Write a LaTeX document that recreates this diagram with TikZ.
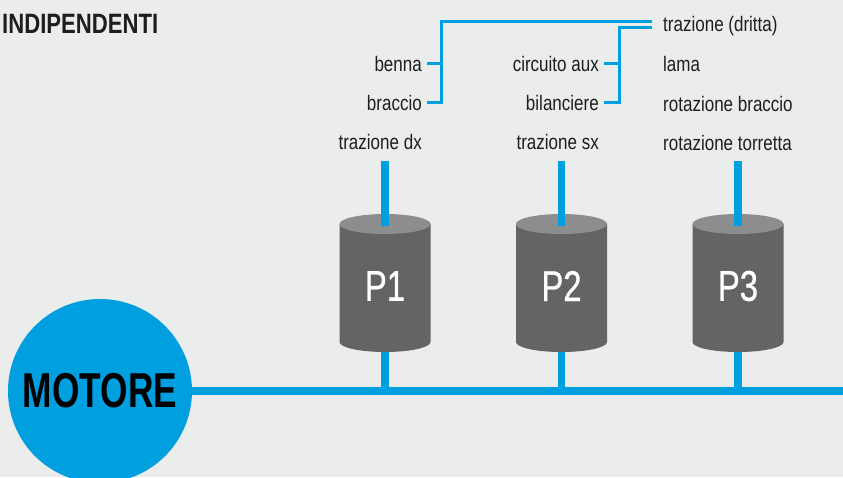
\documentclass[tikz,border=0pt]{standalone}
\usepackage{fontspec}
\setmainfont{Liberation Sans}
\newfontfamily\lblf[FakeStretch=0.81]{Liberation Sans}
\newfontfamily\pf[FakeStretch=0.76,FakeBold=0.8]{Liberation Sans}
\newfontfamily\motf[FakeStretch=0.72]{Liberation Sans}
\newfontfamily\titf[FakeStretch=0.79]{Liberation Sans}
\definecolor{bg}{HTML}{EBECEC}
\definecolor{blu}{HTML}{009FE0}
\definecolor{cylbody}{HTML}{636466}
\definecolor{cyltop}{HTML}{8C8D8F}
\definecolor{txt}{HTML}{1E1E1E}
\tikzset{
  lbl/.style={font=\lblf\fontsize{21}{24}\selectfont, text=txt, inner sep=0pt},
  plbl/.style={font=\pf\fontsize{43}{46}\selectfont, text=white, inner sep=0pt},
  thinb/.style={draw=blu, line width=3pt},
  thickb/.style={draw=blu, line width=7.5pt},
  busb/.style={draw=blu, line width=8pt},
}
\begin{document}
\begin{tikzpicture}[x=1pt,y=-1pt]
\useasboundingbox (0,0) rectangle (843,477);
\clip (0,0) rectangle (843,477);
\fill[bg] (0,0) rectangle (843,477);

% title
\node[anchor=base west, inner sep=0pt, text=txt, font=\titf\bfseries\fontsize{28}{30}\selectfont] (title) at (2,33) {INDIPENDENTI};

% labels column 1
\node[lbl, anchor=base east] (benna) at (422,71) {benna};
\node[lbl, anchor=base east] (braccio) at (422,110) {braccio};
\node[lbl, anchor=base east] (tdx) at (422,149) {trazione dx};
% column 2
\node[lbl, anchor=base east] (caux) at (599,71) {circuito aux};
\node[lbl, anchor=base east] (bil) at (599,110) {bilanciere};
\node[lbl, anchor=base east] (tsx) at (599,149) {trazione sx};
% column 3
\node[lbl, anchor=base west] (tdr) at (663,31) {trazione (dritta)};
\node[lbl, anchor=base west] (lama) at (663,71) {lama};
\node[lbl, anchor=base west] (rbr) at (663,111) {rotazione braccio};
\node[lbl, anchor=base west] (rtor) at (663,150) {rotazione torretta};

% brackets
\coordinate (jA) at (441,21);
\coordinate (jB) at (619,27);
\coordinate (tEnd) at (652,24);
\draw[thinb] ([xshift=5pt]braccio.east) -| (jA) -- (tEnd |- jA);
\draw[thinb] ([xshift=5pt]benna.east) -- (benna.east -| jA);
\draw[thinb] ([xshift=5pt]bil.east) -| (jB) -- (tEnd |- jB);
\draw[thinb] ([xshift=5pt]caux.east) -- (caux.east -| jB);

% motor and bus
\node[circle, fill=blu, minimum size=184pt, inner sep=0pt] (motore) at (100,391) {};
\node[text=black, font=\motf\bfseries\fontsize{49}{52}\selectfont, inner sep=0pt] (motlbl) at (100,391) {MOTORE};
\coordinate (busend) at (843,391);

% pumps: lower connectors first
\foreach \n/\x in {1/385,2/561.5,3/738}{
  \coordinate (q\n) at (\x,391);
  \draw[thickb] (\x,330) -- (q\n);
}
\draw[busb] (motore.east) -- (busend);

\foreach \n/\x in {1/385,2/561.5,3/738}{
  \fill[cylbody] (\x-45.5,224) -- (\x-45.5,342) arc[start angle=180, end angle=0, x radius=45.5, y radius=10] -- (\x+45.5,224) -- cycle;
  \fill[cyltop] (\x,224) ellipse[x radius=45.5, y radius=10];
  \node[plbl] (p\n) at (\x,286) {P\n};
  \coordinate (top\n) at (\x,161);
  \draw[thickb] (top\n) -- (p\n |- 0,226);
}
\end{tikzpicture}
\end{document}
